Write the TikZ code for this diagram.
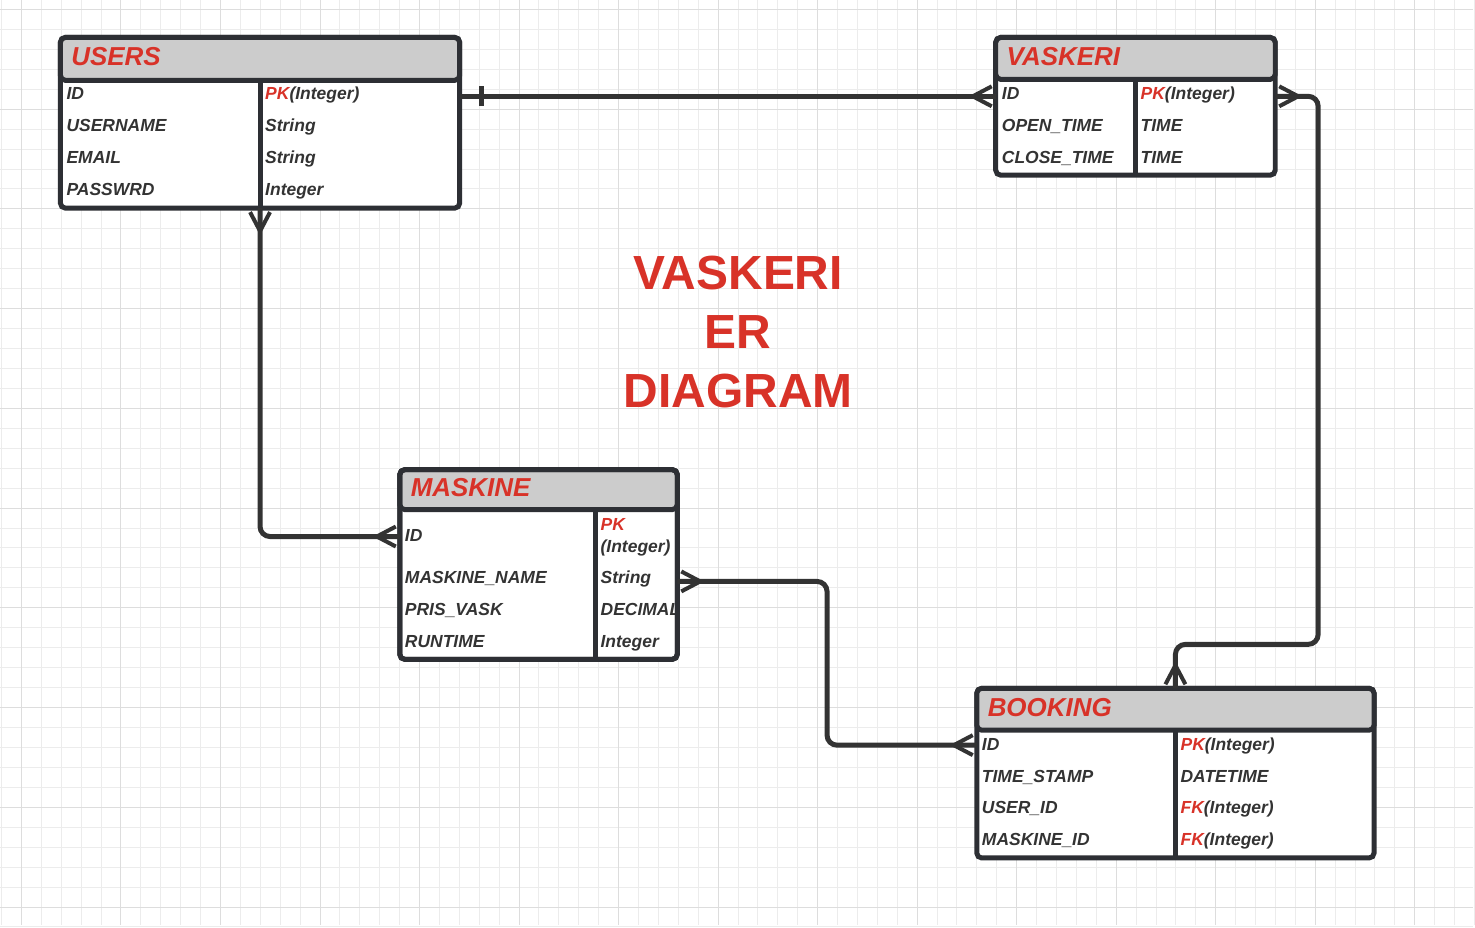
\documentclass[tikz,border=0pt]{standalone}
\usepackage{fontspec}
\setmainfont{Liberation Sans}
\usetikzlibrary{positioning}

\definecolor{erRed}{RGB}{216,50,40}
\definecolor{erText}{RGB}{51,51,51}
\definecolor{erLine}{RGB}{45,47,52}
\definecolor{erHead}{RGB}{204,204,204}
\definecolor{gridMinor}{RGB}{236,236,236}
\definecolor{gridMajor}{RGB}{221,221,221}

\begin{document}
\begin{tikzpicture}[x=1pt, y=-1pt]
            % Styles
            \tikzset{
                tableNode/.style={
                        draw=erLine,
                        fill=white,
                        line width=5pt,
                        rounded corners=5pt,
                        anchor=north west,
                        inner sep=0pt,
                        outer sep=0pt
                    }
            }
            \tikzset{
                headNode/.style={
                        draw=erLine,
                        fill=erHead,
                        line width=5pt,
                        rounded corners=5pt,
                        anchor=north west,
                        outer sep=0pt,
                        inner xsep=11pt,
                        inner ysep=0pt,
                        text depth=4pt,
                        align=left,
                        text=erRed,
                        font=\bfseries\itshape\fontsize{26}{30}\selectfont
                    }
            }
            \tikzset{
                fieldNode/.style={
                        anchor=base west,
                        inner sep=0pt,
                        align=left,
                        text=erText,
                        font=\bfseries\itshape\fontsize{17.5}{21.5}\selectfont
                    }
            }
            \tikzset{
                bigTitle/.style={
                        align=center,
                        inner sep=0pt,
                        text=erRed,
                        font=\bfseries\fontsize{48}{59}\selectfont
                    }
            }
            \tikzset{ruleLine/.style={draw=erLine, line width=5pt}}
            \tikzset{relLine/.style={draw=erText, line width=5pt, rounded corners=10pt}}
            \tikzset{crowFoot/.pic={\draw[erText, line width=4pt] (-4,-10) -- (-23,0) -- (-4,10);}}
            \tikzset{oneBar/.pic={\draw[erText, line width=5pt] (0,-10) -- (0,10);}}
            % Background and grid
            \fill[white] (0,0) rectangle (1475,926);
            \foreach \k in {-1,...,73} {\draw[gridMinor, line width=1pt] ({21+19.94*\k},0) -- ({21+19.94*\k},926);}
            \foreach \k in {0,...,46} {\draw[gridMinor, line width=1pt] (0,{9+19.98*\k}) -- (1475,{9+19.98*\k});}
            \foreach \k in {0,...,14} {\draw[gridMajor, line width=1pt] ({21+99.7*\k},0) -- ({21+99.7*\k},926);}
            \foreach \k in {0,...,9} {\draw[gridMajor, line width=1pt] (0,{9+99.9*\k}) -- (1475,{9+99.9*\k});}
            \useasboundingbox (0,0) rectangle (1475,926);
            % Title
            \node[bigTitle] (title) at (739,332) {VASKERI\\ER\\DIAGRAM};
            % USERS
            \node[tableNode, minimum width=400pt, minimum height=171pt] (users) at (60,37) {};
            \node[headNode, text width=378pt, minimum height=43pt] (usersHead) at (users.north west) {USERS};
            \draw[ruleLine] ([xshift=200pt]usersHead.south west) -- ([xshift=200pt]users.south west);
            \node[fieldNode] (usersId) at (66,99) {ID};
            \node[fieldNode] (usersName) at (66,131) {USERNAME};
            \node[fieldNode] (usersMail) at (66,163) {EMAIL};
            \node[fieldNode] (usersPass) at (66,195) {PASSWRD};
            \node[fieldNode] (usersIdType) at (265,99) {{\color{erRed}PK}(Integer)};
            \node[fieldNode] (usersNameType) at (265,131) {String};
            \node[fieldNode] (usersMailType) at (265,163) {String};
            \node[fieldNode] (usersPassType) at (265,195) {Integer};
            % VASKERI
            \node[tableNode, minimum width=280pt, minimum height=138pt] (vaskeri) at (997,37) {};
            \node[headNode, text width=258pt, minimum height=42pt] (vaskeriHead) at (vaskeri.north west) {VASKERI};
            \draw[ruleLine] ([xshift=140pt]vaskeriHead.south west) -- ([xshift=140pt]vaskeri.south west);
            \node[fieldNode] (vaskeriId) at (1003,99) {ID};
            \node[fieldNode] (vaskeriOpen) at (1003,131) {OPEN\_TIME};
            \node[fieldNode] (vaskeriClose) at (1003,163) {CLOSE\_TIME};
            \node[fieldNode] (vaskeriIdType) at (1142,99) {{\color{erRed}PK}(Integer)};
            \node[fieldNode] (vaskeriOpenType) at (1142,131) {TIME};
            \node[fieldNode] (vaskeriCloseType) at (1142,163) {TIME};
            % MASKINE
            \node[tableNode, minimum width=278pt, minimum height=190pt] (maskine) at (400,470) {};
            \node[headNode, text width=256pt, minimum height=40pt] (maskineHead) at (maskine.north west) {MASKINE};
            \draw[ruleLine] ([xshift=196pt]maskineHead.south west) -- ([xshift=196pt]maskine.south west);
            \node[fieldNode] (maskineId) at (405,542) {ID};
            \node[fieldNode] (maskineName) at (405,584) {MASKINE\_NAME};
            \node[fieldNode] (maskinePris) at (405,616) {PRIS\_VASK};
            \node[fieldNode] (maskineRun) at (405,648) {RUNTIME};
            \node[fieldNode] (maskineIdKey) at (601,531) {\color{erRed}PK};
            \node[fieldNode] (maskineIdType) at (601,553) {(Integer)};
            \node[fieldNode] (maskineNameType) at (601,584) {String};
            \node[fieldNode] (maskinePrisType) at (601,616) {DECIMAL};
            \node[fieldNode] (maskineRunType) at (601,648) {Integer};
            \draw[ruleLine, rounded corners=5pt] (maskine.north west) rectangle (maskine.south east);
            % BOOKING
            \node[tableNode, minimum width=398pt, minimum height=170pt] (booking) at (978,689) {};
            \node[headNode, text width=376pt, minimum height=42pt] (bookingHead) at (booking.north west) {BOOKING};
            \draw[ruleLine] ([xshift=199pt]bookingHead.south west) -- ([xshift=199pt]booking.south west);
            \node[fieldNode] (bookingId) at (983,751) {ID};
            \node[fieldNode] (bookingStamp) at (983,783) {TIME\_STAMP};
            \node[fieldNode] (bookingUser) at (983,814) {USER\_ID};
            \node[fieldNode] (bookingMaskine) at (983,846) {MASKINE\_ID};
            \node[fieldNode] (bookingIdType) at (1182,751) {{\color{erRed}PK}(Integer)};
            \node[fieldNode] (bookingStampType) at (1182,783) {DATETIME};
            \node[fieldNode] (bookingUserType) at (1182,814) {{\color{erRed}FK}(Integer)};
            \node[fieldNode] (bookingMaskineType) at (1182,846) {{\color{erRed}FK}(Integer)};
            % Turning points
            \coordinate (mbTurn) at (828,663);
            \coordinate (vbTurn) at (1320,645);
            % Relations
            \draw[relLine] ([yshift=-3pt]users.east |- usersId) -- ([yshift=-3pt]vaskeri.west |- usersId);
            \pic at ([xshift=22pt, yshift=-3pt]users.east |- usersId) {oneBar};
            \pic at ([yshift=-3pt]vaskeri.west |- usersId) {crowFoot};
            \draw[relLine] (users.south) |- ([yshift=-1pt]maskine.west |- maskineId);
            \pic[rotate=90] at (users.south) {crowFoot};
            \pic at ([yshift=-1pt]maskine.west |- maskineId) {crowFoot};
            \draw[relLine] ([yshift=-3pt]maskine.east |- maskineName) -| (mbTurn) |- ([yshift=-1pt]booking.west |- bookingId);
            \pic[rotate=180] at ([yshift=-3pt]maskine.east |- maskineName) {crowFoot};
            \pic at ([yshift=-1pt]booking.west |- bookingId) {crowFoot};
            \draw[relLine] ([yshift=-3pt]vaskeri.east |- vaskeriId) -| (vbTurn) -| (booking.north);
            \pic[rotate=180] at ([yshift=-3pt]vaskeri.east |- vaskeriId) {crowFoot};
            \pic[rotate=-90] at (booking.north) {crowFoot};
        \end{tikzpicture}
\end{document}
